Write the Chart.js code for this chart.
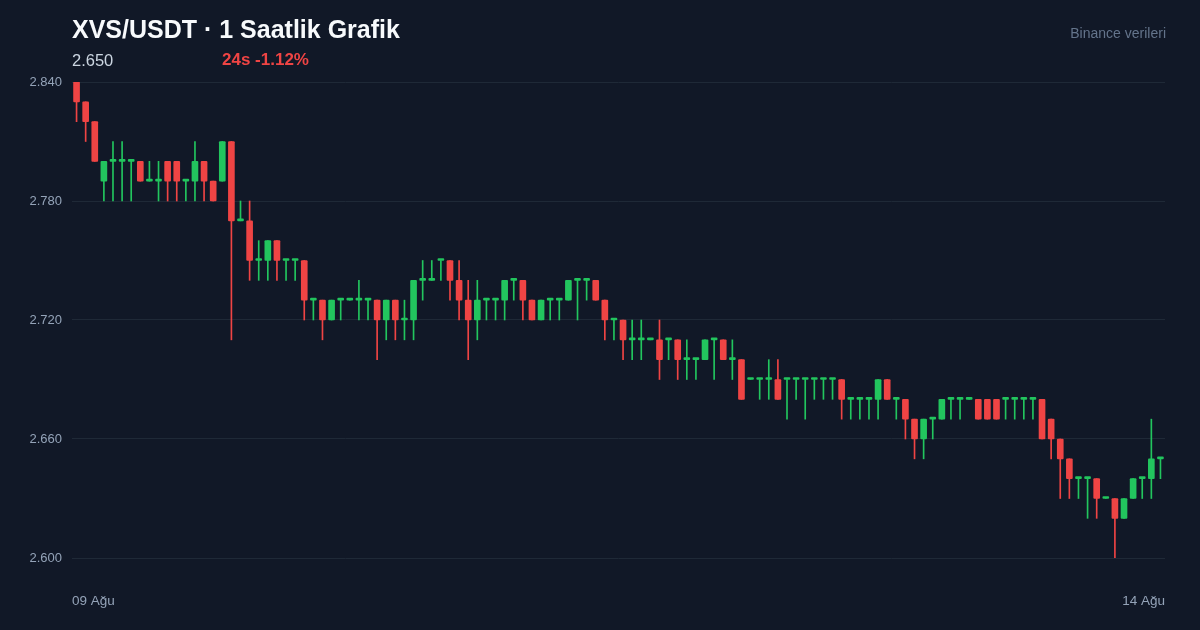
<!DOCTYPE html>
<html>
<head>
<meta charset="utf-8">
<title>XVS/USDT 1 Saatlik Grafik</title>
<script src="https://cdn.jsdelivr.net/npm/chart.js@4.4.1/dist/chart.umd.min.js"></script>
<style>
  html, body { margin: 0; padding: 0; background: #111827; }
  #wrap { position: relative; width: 1200px; height: 630px; background: #111827; overflow: hidden;
          font-family: "Liberation Sans", Arial, Helvetica, sans-serif; }
  #chart { position: absolute; left: 0; top: 0; }
  .txt { position: absolute; white-space: nowrap; line-height: 1; }
  #title { left: 72px; top: 17px; font-size: 25px; font-weight: bold; color: #f8fafc; }
  #last { left: 72px; top: 52px; font-size: 16.5px; color: #cbd5e1; }
  #change { left: 222px; top: 51px; font-size: 17px; font-weight: bold; color: #ef4444; }
  #source { right: 34px; top: 26px; font-size: 14px; color: #64748b; }
</style>
</head>
<body>
<div id="wrap">
  <canvas id="chart" width="1200" height="630"></canvas>
  <div class="txt" id="title">XVS/USDT · 1 Saatlik Grafik</div>
  <div class="txt" id="last">2.650</div>
  <div class="txt" id="change">24s -1.12%</div>
  <div class="txt" id="source">Binance verileri</div>
</div>
<script>
  /////////////////////////////////////
 /*          CANDLE DATA (1h)       */
/////////////////////////////////////

var opens = [
  2.84, 2.83, 2.82, 2.79, 2.80, 2.80, 2.80, 2.80, 2.79, 2.79,
  2.80, 2.80, 2.79, 2.79, 2.80, 2.79, 2.79, 2.81, 2.77, 2.77,
  2.75, 2.75, 2.76, 2.75, 2.75, 2.75, 2.73, 2.73, 2.72, 2.73,
  2.73, 2.73, 2.73, 2.73, 2.72, 2.73, 2.72, 2.72, 2.74, 2.74,
  2.75, 2.75, 2.74, 2.73, 2.72, 2.73, 2.73, 2.73, 2.74, 2.74,
  2.73, 2.72, 2.73, 2.73, 2.73, 2.74, 2.74, 2.74, 2.73, 2.72,
  2.72, 2.71, 2.71, 2.71, 2.71, 2.71, 2.71, 2.70, 2.70, 2.70,
  2.71, 2.71, 2.70, 2.70, 2.69, 2.69, 2.69, 2.69, 2.69, 2.69,
  2.69, 2.69, 2.69, 2.69, 2.69, 2.68, 2.68, 2.68, 2.68, 2.69,
  2.68, 2.68, 2.67, 2.66, 2.67, 2.67, 2.68, 2.68, 2.68, 2.68,
  2.68, 2.68, 2.68, 2.68, 2.68, 2.68, 2.68, 2.67, 2.66, 2.65,
  2.64, 2.64, 2.64, 2.63, 2.63, 2.62, 2.63, 2.64, 2.64, 2.65
];
var highs = [
  2.84, 2.83, 2.82, 2.80, 2.81, 2.81, 2.80, 2.80, 2.80, 2.80,
  2.80, 2.80, 2.79, 2.81, 2.80, 2.79, 2.81, 2.81, 2.78, 2.78,
  2.76, 2.76, 2.76, 2.75, 2.75, 2.75, 2.73, 2.73, 2.73, 2.73,
  2.73, 2.74, 2.73, 2.73, 2.73, 2.73, 2.73, 2.74, 2.75, 2.75,
  2.75, 2.75, 2.75, 2.74, 2.74, 2.73, 2.73, 2.74, 2.74, 2.74,
  2.73, 2.73, 2.73, 2.73, 2.74, 2.74, 2.74, 2.74, 2.73, 2.72,
  2.72, 2.72, 2.72, 2.71, 2.72, 2.71, 2.71, 2.71, 2.70, 2.71,
  2.71, 2.71, 2.71, 2.70, 2.69, 2.69, 2.70, 2.70, 2.69, 2.69,
  2.69, 2.69, 2.69, 2.69, 2.69, 2.68, 2.68, 2.68, 2.69, 2.69,
  2.68, 2.68, 2.67, 2.67, 2.67, 2.68, 2.68, 2.68, 2.68, 2.68,
  2.68, 2.68, 2.68, 2.68, 2.68, 2.68, 2.68, 2.67, 2.66, 2.65,
  2.64, 2.64, 2.64, 2.63, 2.63, 2.63, 2.64, 2.64, 2.67, 2.65
];
var lows = [
  2.82, 2.81, 2.80, 2.78, 2.78, 2.78, 2.78, 2.79, 2.79, 2.78,
  2.78, 2.78, 2.78, 2.78, 2.78, 2.78, 2.79, 2.71, 2.77, 2.74,
  2.74, 2.74, 2.74, 2.74, 2.74, 2.72, 2.72, 2.71, 2.72, 2.72,
  2.73, 2.72, 2.72, 2.70, 2.71, 2.71, 2.71, 2.71, 2.73, 2.74,
  2.74, 2.73, 2.72, 2.70, 2.71, 2.72, 2.72, 2.72, 2.73, 2.72,
  2.72, 2.72, 2.72, 2.72, 2.73, 2.72, 2.73, 2.73, 2.71, 2.71,
  2.70, 2.70, 2.70, 2.71, 2.69, 2.70, 2.69, 2.69, 2.69, 2.70,
  2.69, 2.70, 2.69, 2.68, 2.69, 2.68, 2.68, 2.68, 2.67, 2.68,
  2.67, 2.68, 2.68, 2.68, 2.67, 2.67, 2.67, 2.67, 2.67, 2.68,
  2.67, 2.66, 2.65, 2.65, 2.66, 2.67, 2.67, 2.67, 2.68, 2.67,
  2.67, 2.67, 2.67, 2.67, 2.67, 2.67, 2.66, 2.65, 2.63, 2.63,
  2.63, 2.62, 2.62, 2.63, 2.60, 2.62, 2.63, 2.63, 2.63, 2.64
];
var closes = [
  2.83, 2.82, 2.80, 2.80, 2.80, 2.80, 2.80, 2.79, 2.79, 2.79,
  2.79, 2.79, 2.79, 2.80, 2.79, 2.78, 2.81, 2.77, 2.77, 2.75,
  2.75, 2.76, 2.75, 2.75, 2.75, 2.73, 2.73, 2.72, 2.73, 2.73,
  2.73, 2.73, 2.73, 2.72, 2.73, 2.72, 2.72, 2.74, 2.74, 2.74,
  2.75, 2.74, 2.73, 2.72, 2.73, 2.73, 2.73, 2.74, 2.74, 2.73,
  2.72, 2.73, 2.73, 2.73, 2.74, 2.74, 2.74, 2.73, 2.72, 2.72,
  2.71, 2.71, 2.71, 2.71, 2.70, 2.71, 2.70, 2.70, 2.70, 2.71,
  2.71, 2.70, 2.70, 2.68, 2.69, 2.69, 2.69, 2.68, 2.69, 2.69,
  2.69, 2.69, 2.69, 2.69, 2.68, 2.68, 2.68, 2.68, 2.69, 2.68,
  2.68, 2.67, 2.66, 2.67, 2.67, 2.68, 2.68, 2.68, 2.68, 2.67,
  2.67, 2.67, 2.68, 2.68, 2.68, 2.68, 2.66, 2.66, 2.65, 2.64,
  2.64, 2.64, 2.63, 2.63, 2.62, 2.63, 2.64, 2.64, 2.65, 2.65
];

var xTickLabels = ["09 Ağu", "14 Ağu"];
var yTicks = [2.600, 2.660, 2.720, 2.780, 2.840];

var UP = "#22c55e";
var DOWN = "#ef4444";

  /////////////////////////////////////
 /*        BUILD THE DATASETS       */
/////////////////////////////////////

var bodies = [];
var wicks = [];
var colors = [];
for (var i = 0; i < opens.length; i++) {
  bodies.push({ x: i, y: [opens[i], closes[i]] });
  wicks.push({ x: i, y: [lows[i], highs[i]] });
  colors.push(closes[i] >= opens[i] ? UP : DOWN);
}

var ctx = document.getElementById('chart').getContext('2d');
var chart = new Chart(ctx, {
  type: 'bar',
  data: {
    datasets: [{
      label: 'body',
      data: bodies,
      backgroundColor: colors,
      borderWidth: 0,
      borderRadius: 1,
      borderSkipped: false,
      barThickness: 6,
      minBarLength: 2,
      grouped: false,
      order: 1
    }, {
      label: 'wick',
      data: wicks,
      backgroundColor: colors,
      borderWidth: 0,
      barThickness: 1,
      grouped: false,
      order: 2
    }]
  },
  options: {
    responsive: false,
    animation: false,
    devicePixelRatio: 1,
    layout: { padding: { top: 82, right: 34, left: 0, bottom: 0 } },
    plugins: { legend: { display: false }, tooltip: { enabled: false } },
    scales: {
      x: {
        type: 'linear',
        offset: false,
        min: -0.5,
        max: opens.length - 0.5,
        afterBuildTicks: function(scale) {
          scale.ticks = [{ value: -0.5 }, { value: opens.length - 0.5 }];
        },
        afterFit: function(scale) { scale.height = 72; },
        grid: { display: false, drawTicks: false },
        border: { display: false },
        ticks: {
          autoSkip: false,
          maxRotation: 0,
          align: 'inner',
          padding: 35,
          color: '#94a3b8',
          font: { family: '"Liberation Sans", Arial, sans-serif', size: 13.5 },
          callback: function(v, idx) { return xTickLabels[idx]; }
        }
      },
      y: {
        min: 2.60,
        max: 2.84,
        afterBuildTicks: function(scale) {
          scale.ticks = yTicks.map(function(v) { return { value: v }; });
        },
        afterFit: function(scale) { scale.width = 72; },
        grid: { color: '#1f2937', lineWidth: 1, drawTicks: false },
        border: { display: false },
        ticks: {
          padding: 10,
          color: '#94a3b8',
          font: { family: '"Liberation Sans", Arial, sans-serif', size: 13 },
          callback: function(v) { return Number(v).toFixed(3); }
        }
      }
    }
  }
});
</script>
</body>
</html>
